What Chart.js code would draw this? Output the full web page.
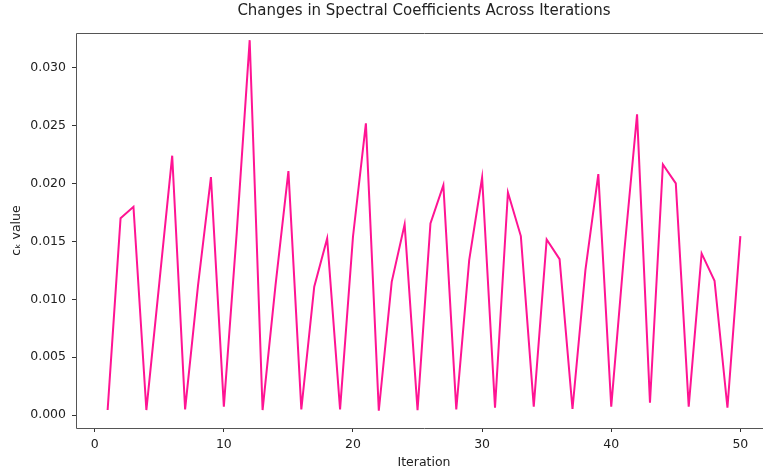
<!DOCTYPE html>
<html>
<head>
<meta charset="utf-8">
<script src="https://cdn.jsdelivr.net/npm/chart.js@4.4.0/dist/chart.umd.min.js"></script>
<style>
  html, body { margin: 0; padding: 0; background: #fff; overflow: hidden; }
  #wrap { width: 776px; height: 470px; }
</style>
</head>
<body>
<div id="wrap"><canvas id="chart" width="776" height="470"></canvas></div>
<script>
// iteration numbers (x) and c_k values (y)
const iterations = [1, 2, 3, 4, 5, 6, 7, 8, 9, 10,
  11, 12, 13, 14, 15, 16, 17, 18, 19, 20,
  21, 22, 23, 24, 25, 26, 27, 28, 29, 30,
  31, 32, 33, 34, 35, 36, 37, 38, 39, 40,
  41, 42, 43, 44, 45, 46, 47, 48, 49, 50];
const ckValues = [0.00043, 0.01699, 0.01799, 0.00043, 0.0114, 0.02240, 0.00049, 0.0112, 0.02055, 0.00072,
  0.0158, 0.03238, 0.00043, 0.0112, 0.02107, 0.00049, 0.01108, 0.01526, 0.00049, 0.0154,
  0.02519, 0.00037, 0.01151, 0.01647, 0.00043, 0.01655, 0.01986, 0.00049, 0.01338, 0.02052,
  0.00063, 0.01923, 0.01546, 0.00072, 0.01517, 0.01347, 0.00052, 0.01252, 0.02081, 0.00072,
  0.0140, 0.02597, 0.00106, 0.02165, 0.02001, 0.00072, 0.01396, 0.0116, 0.00063, 0.01546];
const xTicks = [0, 10, 20, 30, 40, 50];
const yTicks = [0, 0.005, 0.010, 0.015, 0.020, 0.025, 0.030];

const titleText = 'Changes in Spectral Coefficients Across Iterations';
const textColor = '#222';
const font = 'DejaVu Sans';

// title centred over the plot area, plus the frame (right side falls off the page)
const framePlugin = {
  id: 'frame',
  afterDraw(chart) {
    const ctx = chart.ctx;
    const a = chart.chartArea;
    const l = Math.round(a.left) + 0.5, t = Math.round(a.top) + 0.5;
    const r = Math.round(a.right) + 0.5, b = Math.round(a.bottom) + 0.5;
    ctx.save();
    ctx.strokeStyle = '#555';
    ctx.lineWidth = 1;
    ctx.beginPath();
    ctx.moveTo(r, t);
    ctx.lineTo(l, t);
    ctx.lineTo(l, b);
    ctx.lineTo(r, b);
    ctx.stroke();
    ctx.fillStyle = textColor;
    ctx.font = '15px "' + font + '"';
    ctx.textAlign = 'center';
    ctx.textBaseline = 'middle';
    ctx.fillText(titleText, (a.left + a.right) / 2, 11);
    ctx.restore();
  }
};

const chart = new Chart(document.getElementById('chart'), {
  type: 'line',
  data: {
    datasets: [{
      data: iterations.map((x, i) => ({ x: x, y: ckValues[i] })),
      borderColor: '#ff1493',
      borderWidth: 2,
      pointRadius: 0,
      tension: 0,
      fill: false
    }]
  },
  options: {
    responsive: false,
    animation: false,
    devicePixelRatio: 1,
    layout: { padding: { top: 33, right: 4, left: 0, bottom: 0 } },
    plugins: {
      legend: { display: false },
      tooltip: { enabled: false },
      title: { display: false }
    },
    scales: {
      x: {
        type: 'linear',
        min: -1.45,
        max: 52.45,
        afterBuildTicks(scale) { scale.ticks = xTicks.map(v => ({ value: v })); },
        afterFit(scale) { scale.height = 42; },
        ticks: {
          color: textColor,
          font: { family: font, size: 12.5 },
          padding: 5,
          maxRotation: 0,
          callback: v => String(v)
        },
        grid: { drawOnChartArea: false, drawTicks: true, tickLength: 4, color: '#333' },
        border: { display: false },
        title: {
          display: true,
          text: 'Iteration',
          color: textColor,
          font: { family: font, size: 12.5 },
          padding: { top: 0, bottom: 0 }
        }
      },
      y: {
        min: -0.00112,
        max: 0.033,
        afterBuildTicks(scale) { scale.ticks = yTicks.map(v => ({ value: v })); },
        afterFit(scale) { scale.width = 76; },
        ticks: {
          color: textColor,
          font: { family: font, size: 12.5 },
          padding: 6,
          callback: v => v.toFixed(3)
        },
        grid: { drawOnChartArea: false, drawTicks: true, tickLength: 4, color: '#333' },
        border: { display: false },
        title: {
          display: true,
          text: 'cₖ value',
          color: textColor,
          font: { family: font, size: 12.5 },
          padding: { top: 9, bottom: 0 }
        }
      }
    }
  },
  plugins: [framePlugin]
});
</script>
</body>
</html>
